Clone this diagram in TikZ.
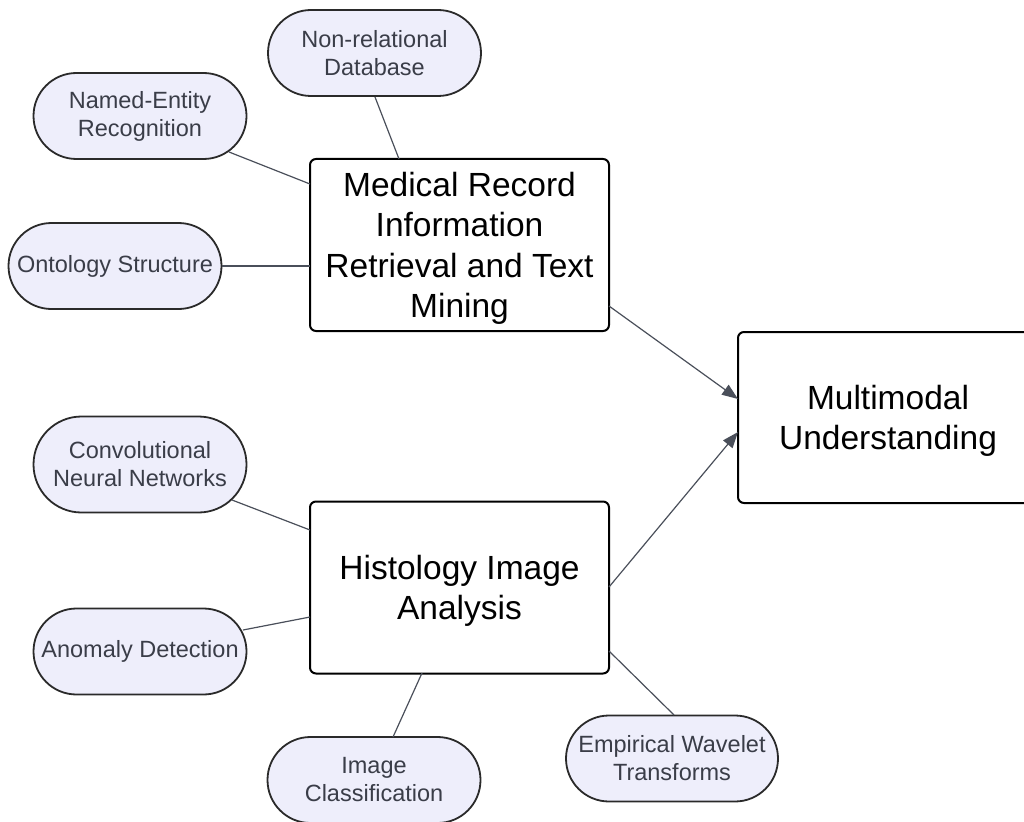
\documentclass[tikz,border=0pt]{standalone}
\usepackage{fontspec}
\setmainfont{Liberation Sans}
\usetikzlibrary{arrows.meta}
\definecolor{pillfill}{HTML}{EEEEFB}
\definecolor{pilltext}{HTML}{3A3D48}
\definecolor{edgecol}{HTML}{4A4F5A}
\definecolor{bordercol}{HTML}{2A2A2A}
\tikzset{
  pill/.style={draw=bordercol, line width=1.8pt, fill=pillfill, text=pilltext,
    minimum width=213pt, minimum height=86pt, inner sep=0pt,
    rounded corners=43pt, align=center, font=\fontsize{23.5}{28}\selectfont},
  mainbox/.style={draw=black, line width=2pt, fill=white, rounded corners=6pt,
    minimum width=299pt, minimum height=172pt, inner sep=0pt, align=center,
    font=\fontsize{33.5}{40.5}\selectfont},
  link/.style={draw=edgecol, line width=1.2pt},
  arr/.style={link, -{Triangle[length=16pt,width=12pt]}}
}
\newcommand{\lowered}[1]{\raisebox{-4pt}[\height][\depth]{\begin{tabular}{@{}c@{}}#1\end{tabular}}}
\begin{document}
\begin{tikzpicture}[x=1pt,y=-1pt]
\useasboundingbox (0,0) rectangle (1024,821);
% main boxes
\node[mainbox] (mr) at (459.5,245) {\lowered{Medical Record\\Information\\Retrieval and Text\\Mining}};
\node[mainbox] (hi) at (459.5,587.5) {\lowered{Histology Image\\Analysis}};
\node[mainbox, minimum width=300pt, minimum height=171pt] (mm) at (888,417.5) {\lowered{Multimodal\\Understanding}};
% pills
\node[pill] (nr) at (374.5,53) {Non-relational\\Database};
\node[pill] (ne) at (140,116) {Named-Entity\\Recognition};
\node[pill] (on) at (115,266) {Ontology Structure};
\node[pill, minimum height=96pt, rounded corners=48pt] (cn) at (140,464.5) {Convolutional\\Neural Networks};
\node[pill] (an) at (140,651.5) {Anomaly Detection};
\node[pill] (ic) at (374,780) {Image\\Classification};
\node[pill, minimum width=212pt] (ew) at (672,758.5) {Empirical Wavelet\\Transforms};
% anchor coordinates
\coordinate (nrB) at (375,97);
\coordinate (mrT) at (399,159);
\coordinate (neR) at (229,152);
\coordinate (mrL1) at (310,184);
\coordinate (onR) at (222,266);
\coordinate (mrL2) at (310,266);
\coordinate (mrR) at (609,306);
\coordinate (mmL1) at (738,399);
\coordinate (hiR) at (609,587);
\coordinate (mmL2) at (738,432);
\coordinate (cnR) at (232,500);
\coordinate (hiL1) at (310,530);
\coordinate (anR) at (243,630);
\coordinate (hiL2) at (310,617);
\coordinate (icT) at (393,737);
\coordinate (hiB) at (422,673);
\coordinate (ewT) at (674,715);
\coordinate (hiR2) at (609,651);
% connectors
\draw[link] (nrB) -- (mrT);
\draw[link] (neR) -- (mrL1);
\draw[link] (onR) -- (mrL2);
\draw[arr] (mrR) -- (mmL1);
\draw[arr] (hiR) -- (mmL2);
\draw[link] (cnR) -- (hiL1);
\draw[link] (anR) -- (hiL2);
\draw[link] (icT) -- (hiB);
\draw[link] (ewT) -- (hiR2);
\end{tikzpicture}
\end{document}
